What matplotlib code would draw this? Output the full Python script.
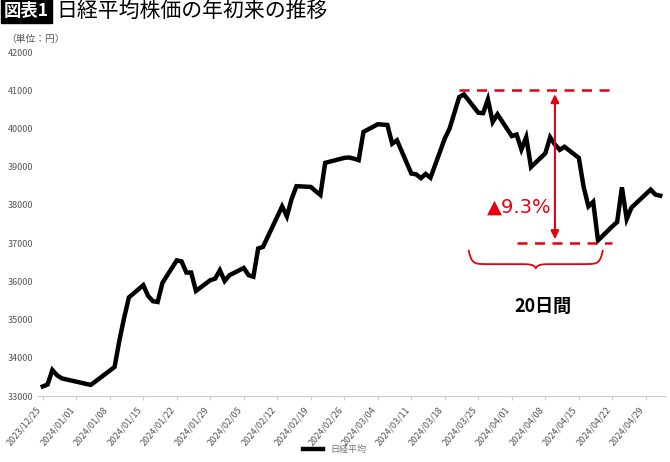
import matplotlib
matplotlib.use("Agg")
import matplotlib.pyplot as plt
import matplotlib.dates as mdates
import numpy as np
import pandas as pd

plt.rcParams['font.family'] = ['Noto Sans CJK JP', 'DejaVu Sans']

dates = ["2023-12-25","2023-12-26","2023-12-27","2023-12-28","2023-12-29",
 "2024-01-04","2024-01-05","2024-01-09","2024-01-10","2024-01-11","2024-01-12",
 "2024-01-15","2024-01-16","2024-01-17","2024-01-18","2024-01-19",
 "2024-01-22","2024-01-23","2024-01-24","2024-01-25","2024-01-26",
 "2024-01-29","2024-01-30","2024-01-31","2024-02-01","2024-02-02",
 "2024-02-05","2024-02-06","2024-02-07","2024-02-08","2024-02-09",
 "2024-02-13","2024-02-14","2024-02-15","2024-02-16",
 "2024-02-19","2024-02-20","2024-02-21","2024-02-22",
 "2024-02-26","2024-02-27","2024-02-28","2024-02-29","2024-03-01",
 "2024-03-04","2024-03-05","2024-03-06","2024-03-07","2024-03-08",
 "2024-03-11","2024-03-12","2024-03-13","2024-03-14","2024-03-15",
 "2024-03-18","2024-03-19","2024-03-21","2024-03-22",
 "2024-03-25","2024-03-26","2024-03-27","2024-03-28","2024-03-29",
 "2024-04-01","2024-04-02","2024-04-03","2024-04-04","2024-04-05",
 "2024-04-08","2024-04-09","2024-04-10","2024-04-11","2024-04-12",
 "2024-04-15","2024-04-16","2024-04-17","2024-04-18","2024-04-19",
 "2024-04-22","2024-04-23","2024-04-24","2024-04-25","2024-04-26",
 "2024-04-30","2024-05-01","2024-05-02"]
values = [33250,33300,33680,33540,33460,
 33290,33380,33760,34450,35050,35580,
 35900,35620,35480,35460,35960,
 36550,36520,36230,36230,35750,
 36030,36070,36290,36010,36160,
 36350,36160,36120,36860,36900,
 37960,37700,38160,38490,
 38470,38360,38260,39100,
 39230,39240,39210,39170,39910,
 40110,40100,40090,39600,39690,
 38820,38800,38700,38810,38710,
 39740,40000,40820,40890,
 40410,40400,40760,40170,40370,
 39800,39840,39450,39770,38990,
 39350,39770,39580,39440,39520,
 39230,38470,37960,38080,37070,
 37440,37550,38460,37630,37930,
 38400,38270,38240]
tick_dates = pd.date_range("2023-12-25", "2024-04-29", freq="7D")
yticks = list(range(33000, 42001, 1000))

d = pd.to_datetime(dates)
fig = plt.figure(figsize=(6.7, 4.62), dpi=100)
ax = fig.add_axes([38/670, 66/462, 627/670, 344/462])
ax.plot(d, values, color='black', lw=3.2, solid_joinstyle='miter', label='日経平均')
ax.set_xlim(pd.Timestamp("2023-12-24"), pd.Timestamp("2024-05-03"))
ax.set_ylim(33000, 42000)
ax.set_yticks(yticks)
ax.set_xticks(tick_dates)
ax.set_xticklabels([t.strftime("%Y/%m/%d") for t in tick_dates], rotation=50, ha='right', fontsize=6.5, color='#555555')
ax.tick_params(axis='y', labelsize=6.5, labelcolor='#555555', length=0)
ax.tick_params(axis='x', length=3, color='#cccccc')
for s in ['top', 'right', 'left']:
    ax.spines[s].set_visible(False)
ax.spines['bottom'].set_color('#cccccc')

red = '#e60012'
ax.hlines(41000, pd.Timestamp("2024-03-21"), pd.Timestamp("2024-04-22"), colors=red, linestyles=(0, (4, 3)), lw=1.8)
ax.hlines(37000, pd.Timestamp("2024-04-02"), pd.Timestamp("2024-04-22"), colors=red, linestyles=(0, (4, 3)), lw=1.8)
ax.annotate('', xy=(pd.Timestamp("2024-04-10"), 40970), xytext=(pd.Timestamp("2024-04-10"), 37030),
            arrowprops=dict(arrowstyle='<|-|>', color=red, lw=1.5, mutation_scale=12))
ax.text(pd.Timestamp("2024-04-02 12:00"), 37950, '▲9.3%', color=red, fontsize=14, ha='center', va='center',
        family=['DejaVu Sans'])
# curly brace
x0 = mdates.date2num(pd.Timestamp("2024-03-23"))
x1 = mdates.date2num(pd.Timestamp("2024-04-20"))
xm = (x0 + x1) / 2
t = np.linspace(0, 1, 60)
def half(a, b):
    # from a (top) to b (middle tip)
    xs = a + (b - a) * t
    ys = 36800 - 350 * (1 - np.exp(-t * 25)) - 100 * np.exp(-(1 - t) * 25)
    return xs, ys
xa, ya = half(x0, xm)
xb, yb = half(x1, xm)
ax.plot(xa, ya, color=red, lw=1.3)
ax.plot(xb, yb, color=red, lw=1.3)
ax.text(pd.Timestamp("2024-04-07 12:00"), 35350, '20日間', fontsize=13, fontweight='bold', ha='center', va='center')

fig.text(4/670, 451/462, '図表1', fontsize=12.5, color='white', fontweight='bold', va='center',
         bbox=dict(boxstyle='square,pad=0.15', fc='black', ec='black'))
fig.text(56/670, 451/462, '日経平均株価の年初来の推移', fontsize=15, va='center')
fig.text(6/670, 423/462, '（単位：円）', fontsize=7, color='#555555', va='center')
leg = fig.legend(loc='lower center', bbox_to_anchor=(0.5, 0.0), frameon=False, fontsize=6.5, handlelength=2.2)
for tx in leg.get_texts():
    tx.set_color('#777777')
fig.savefig('out.png', dpi=100)
